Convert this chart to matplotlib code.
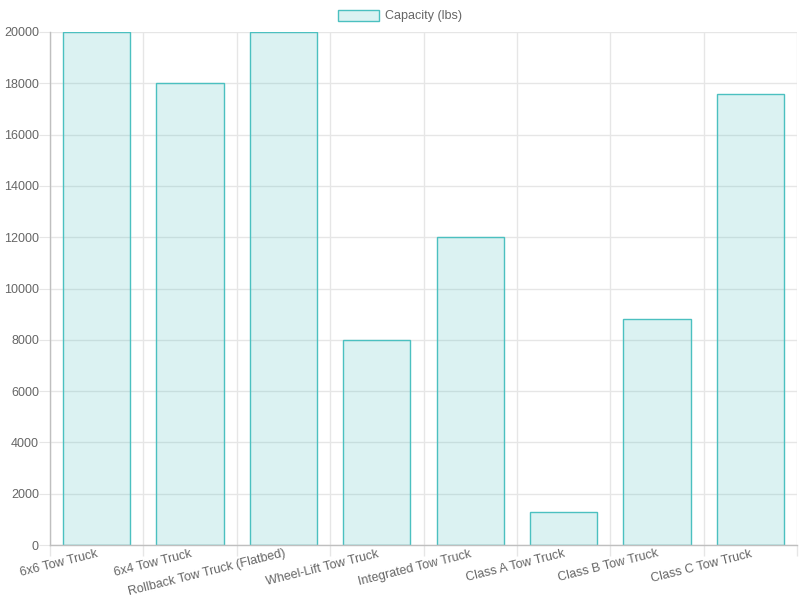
import numpy as np
import matplotlib.pyplot as plt
from matplotlib.patches import Patch

# Data
categories = ['6x6 Tow Truck', '6x4 Tow Truck', 'Rollback Tow Truck (Flatbed)',
              'Wheel-Lift Tow Truck', 'Integrated Tow Truck', 'Class A Tow Truck',
              'Class B Tow Truck', 'Class C Tow Truck']
capacity = [20000, 18000, 20000, 8000, 12000, 1300, 8800, 17600]
series_label = 'Capacity (lbs)'

plt.rcParams['font.family'] = ['Liberation Sans', 'DejaVu Sans']
text_color = '#666666'
grid_color = '#e6e6e6'
axis_color = '#bfbfbf'
edge = (75/255, 192/255, 192/255)
fill = (75/255, 192/255, 192/255, 0.2)

fig = plt.figure(figsize=(8, 6), dpi=100)
ax = fig.add_axes([50/800, 55/600, 747/800, 513/600])

x = np.arange(len(categories))
ax.bar(x, capacity, width=0.72, color=fill, edgecolor=edge, linewidth=1, zorder=2)

ax.set_xlim(-0.5, len(categories) - 0.5)
ax.set_ylim(0, 20000)
ax.set_yticks(np.arange(0, 20001, 2000))

# x labels at centers, grid at boundaries
ax.set_xticks(x)
ax.set_xticklabels(categories, rotation=14, ha='right', va='top',
                   rotation_mode='anchor', color=text_color, fontsize=9)
ax.tick_params(axis='x', which='major', length=0, pad=2)
ax.set_xticks(np.arange(-0.5, len(categories)), minor=True)
ax.tick_params(axis='x', which='minor', length=8, color=grid_color, width=1)
ax.grid(axis='x', which='minor', color=grid_color, linewidth=1, zorder=0)
ax.grid(axis='y', which='major', color=grid_color, linewidth=1, zorder=0)

ax.tick_params(axis='y', length=8, color=grid_color, labelcolor=text_color,
               labelsize=9, pad=0)

for s in ['top', 'right']:
    ax.spines[s].set_visible(False)
for s in ['left', 'bottom']:
    ax.spines[s].set_color(axis_color)
    ax.spines[s].set_linewidth(1)
ax.set_axisbelow(True)

handle = Patch(facecolor=fill, edgecolor=edge, linewidth=1)
fig.legend([handle], [series_label], loc='center', bbox_to_anchor=(0.5, 1 - 16/600),
           frameon=False, fontsize=9, labelcolor=text_color,
           handlelength=3.3, handleheight=1.0, handletextpad=0.5)

fig.savefig('out.png', dpi=100)
